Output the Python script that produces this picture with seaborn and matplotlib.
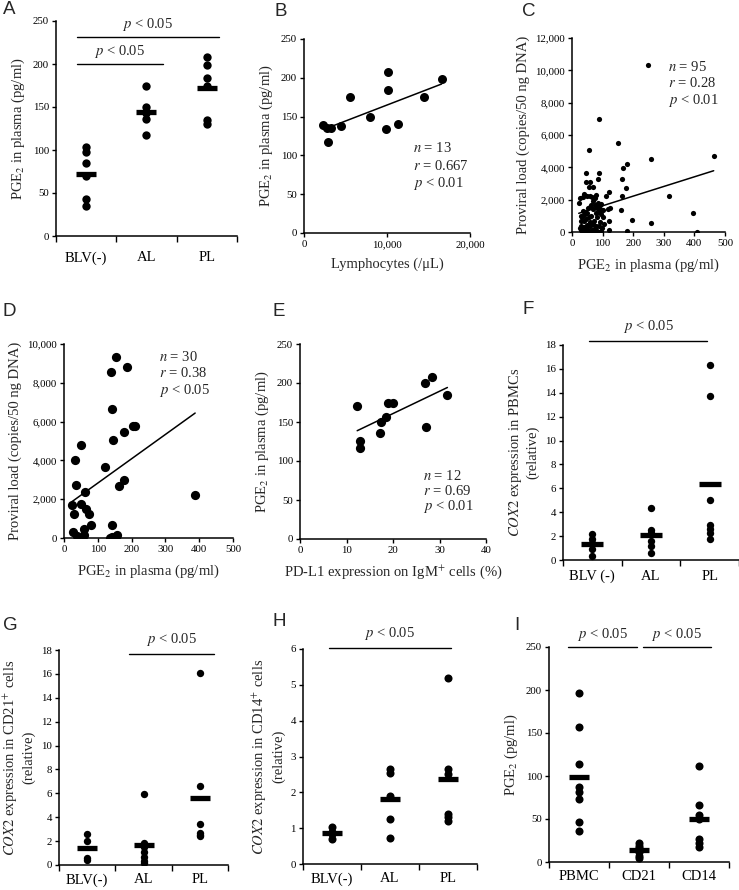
import numpy as np
import pandas as pd
import matplotlib
matplotlib.use('Agg')
import matplotlib.pyplot as plt
import seaborn as sns
from matplotlib.ticker import StrMethodFormatter, FixedLocator

# ---------------- data ----------------
# A: PGE2 in plasma by group
a_groups = ['BLV(-)', 'AL', 'PL']
a_blv = [104, 98, 85, 70, 43, 35]
a_al = [175, 150, 143, 136, 118]
a_pl = [208, 199, 184, 175, 135, 130]

# B: lymphocytes vs PGE2
b_lymph = [2330, 2740, 2900, 3300, 4430, 5550, 8010, 9820, 10140, 10140, 11270, 14450, 16580]
b_pge2 = [139, 135, 117, 135, 138, 175, 149, 134, 207, 184, 140, 175, 199]

# C: PGE2 vs proviral load (n = 95)
c_pge2 = [248, 88, 150, 55, 258, 463, 180, 168, 45, 87, 162, 85, 46, 60, 70, 55, 175,
          120, 110, 165, 318, 160, 196, 258, 180, 397, 408, 120, 125, 118, 105, 100, 122, 92,
          25, 22, 35, 40, 48, 58, 65, 75, 80, 95, 85,
          28, 32, 40, 52, 60, 70, 78, 88, 95,
          30, 38, 45, 55, 62, 72, 82, 90,
          25, 30, 35, 40, 45, 50, 55, 60, 65, 70, 75, 80, 85, 90, 95,
          28, 33, 42, 48, 58, 68, 78, 88, 98,
          36, 44, 50, 62, 68, 74, 82, 92, 100]
c_pvl = [10300, 6970, 5500, 5050, 4500, 4720, 4230, 3980, 3650, 3680, 3300, 3250, 3100, 3120,
         2780, 2800, 2750, 2480, 2250, 2200, 2230, 1380, 720, 550, 80, 1180, 10, 650, 1500,
         1400, 500, 1350, 150, 1650,
         2100, 1800, 2150, 2350, 2250, 2200, 2150, 2100, 2300, 1750, 1800,
         1000, 900, 1050, 1500, 1550, 1400, 1200, 1250, 1100,
         700, 650, 800, 950, 1000, 700, 900, 600,
         250, 150, 50, 300, 100, 200, 50, 400, 150, 60, 250, 100, 30, 20, 60,
         400, 80, 20, 450, 600, 500, 350, 400, 250,
         1300, 1250, 1200, 1700, 1900, 1650, 1500, 1450, 900]

# D: PGE2 vs proviral load (n = 30)
d_pge2 = [141, 50, 32, 144, 178, 121, 35, 63, 178, 163, 24, 50, 31, 65, 75, 80, 27, 39,
          60, 60, 143, 141, 158, 139, 154, 187, 203, 211, 388, 136]
d_pvl = [6665, 4810, 4040, 5030, 5440, 3640, 2750, 2390, 3000, 2660, 1700, 1770, 1240, 1510,
         1250, 670, 290, 80, 480, 150, 670, 30, 170, 8570, 9310, 8800, 5780, 5780, 2230, 20]

# E: PD-L1 on IgM+ cells vs PGE2
e_pdl1 = [12.3, 12.9, 12.9, 17.2, 17.5, 18.5, 19.0, 20.0, 26.8, 27.1, 28.3, 31.7]
e_pge2 = [171, 126, 117, 136, 150, 157, 175, 175, 200, 143, 208, 184]

# F: COX2 in PBMCs
f_groups = ['BLV (-)', 'AL', 'PL']
f_blv = [2.2, 1.8, 1.4, 0.9, 0.3]
f_al = [4.35, 2.5, 2.3, 1.6, 1.2, 0.6]
f_pl = [16.35, 13.7, 5.0, 2.9, 2.6, 2.3, 1.8]

# G: COX2 in CD21+ cells
g_groups = ['BLV(-)', 'AL', 'PL']
g_blv = [2.6, 2.0, 0.55, 0.45]
g_al = [5.95, 1.85, 1.5, 1.1, 0.7, 0.3, 0.2]
g_pl = [16.1, 6.6, 3.4, 2.7, 2.5, 2.4]

# H: COX2 in CD14+ cells
h_groups = ['BLV(-)', 'AL', 'PL']
h_blv = [1.02, 0.9, 0.85, 0.7]
h_al = [2.65, 2.55, 1.9, 1.25, 0.72]
h_pl = [5.2, 2.65, 2.5, 1.4, 1.3, 1.2]

# I: PGE2 by cell type
i_groups = ['PBMC', 'CD21', 'CD14']
i_pbmc = [196, 157, 114, 87, 81, 73, 47, 36]
i_cd21 = [22, 19, 16, 12, 7, 5]
i_cd14 = [112, 66, 55, 50, 27, 22, 18]

# ---------------- style ----------------
sns.set_theme(style='ticks')
plt.rcParams['font.family'] = ['Liberation Serif', 'DejaVu Serif']
plt.rcParams['mathtext.fontset'] = 'stix'

W, H = 739, 890
fig = plt.figure(figsize=(W / 100, H / 100), dpi=100)
fig.patch.set_facecolor('white')

PGE_LABEL = 'PGE$_2$ in plasma (pg/ml)'
PVL_LABEL = 'Proviral load (copies/50 ng DNA)'


def px_axes(left, top, right, bottom):
    return fig.add_axes([left / W, 1 - bottom / H, (right - left) / W, (bottom - top) / H])


def style(ax):
    sns.despine(ax=ax)
    for s in ['left', 'bottom']:
        ax.spines[s].set_linewidth(1.1)
        ax.spines[s].set_color('black')
    ax.tick_params(labelsize=7.8, length=3, width=1, colors='black', direction='out', pad=2)
    ax.set_facecolor('white')


def letter(x, y, s):
    fig.text(x / W, 1 - y / H, s, fontsize=13.5, family=['Liberation Sans', 'DejaVu Sans'],
             ha='left', va='center')


def group_panel(ax, cats, vals, yticks, ylabel, dot=6, bar=15, pad=11):
    df = pd.DataFrame({'grp': np.repeat(cats, [len(v) for v in vals]),
                       'val': np.concatenate(vals)})
    sns.stripplot(data=df, x='grp', y='val', order=cats, jitter=False, color='black',
                  size=dot, linewidth=0, ax=ax, zorder=3)
    sns.pointplot(data=df, x='grp', y='val', order=cats, estimator='mean', errorbar=None,
                  linestyle='none', marker='_', markersize=bar, markeredgewidth=3.8,
                  color='black', ax=ax, zorder=4)
    style(ax)
    ax.set_xlim(-0.5, 2.5)
    ax.set_ylim(yticks[0], yticks[-1])
    ax.set_yticks(yticks)
    ax.set_xticks(range(3))
    ax.set_xticklabels(cats, fontsize=10.5)
    ax.xaxis.set_minor_locator(FixedLocator([-0.5, 0.5, 1.5, 2.5]))
    ax.tick_params(axis='x', which='major', length=0, pad=pad)
    ax.tick_params(axis='x', which='minor', length=4, width=1, color='black')
    ax.set_xlabel('')
    ax.set_ylabel(ylabel, fontsize=10.5)


def sig(ax, x0, x1, y, ytxt):
    ax.plot([x0, x1], [y, y], color='black', lw=1, clip_on=False)
    ax.text((x0 + x1) / 2, ytxt, '$p$ < 0.05', ha='center', va='bottom', fontsize=10.5,
            clip_on=False)


def scatter_panel(ax, x, y, s, xticks, yticks, xlabel, ylabel, stats, txt_xy, txt_dy):
    sns.regplot(x=np.array(x, float), y=np.array(y, float), ci=None, ax=ax,
                scatter_kws={'s': s, 'color': 'black', 'linewidths': 0, 'alpha': 1},
                line_kws={'color': 'black', 'lw': 1.1})
    style(ax)
    ax.set_xlim(xticks[0], xticks[-1])
    ax.set_ylim(yticks[0], yticks[-1])
    ax.set_xticks(xticks)
    ax.set_yticks(yticks)
    ax.set_xlabel(xlabel, fontsize=10.5, labelpad=6)
    ax.set_ylabel(ylabel, fontsize=10.5)
    tx, ty = txt_xy
    for k, line in enumerate(stats):
        ax.text(tx, ty - k * txt_dy, line, fontsize=10.5, ha='left', va='center')


comma = StrMethodFormatter('{x:,.0f}')

# ---- A ----
axA = px_axes(56, 21, 237, 236)
group_panel(axA, a_groups, [a_blv, a_al, a_pl], [0, 50, 100, 150, 200, 250], PGE_LABEL)
sig(axA, -0.15, 2.2, 231, 236)
sig(axA, -0.15, 1.27, 200, 205)
letter(3, 10, 'A')

# ---- B ----
axB = px_axes(304, 39, 470, 233)
scatter_panel(axB, b_lymph, b_pge2, 42, [0, 10000, 20000], [0, 50, 100, 150, 200, 250],
              'Lymphocytes (/μL)', PGE_LABEL,
              ['$n$ = 13', '$r$ = 0.667', '$p$ < 0.01'], (13100, 109), 22.5)
axB.xaxis.set_major_formatter(comma)
letter(274, 12, 'B')

# ---- C ----
axC = px_axes(572, 38, 725, 232)
scatter_panel(axC, c_pge2, c_pvl, 14, [0, 100, 200, 300, 400, 500],
              list(range(0, 12001, 2000)), PGE_LABEL, PVL_LABEL,
              ['$n$ = 95', '$r$ = 0.28', '$p$ < 0.01'], (313, 10220), 1030)
axC.yaxis.set_major_formatter(comma)
letter(522, 12, 'C')

# ---- D ----
axD = px_axes(64, 344, 233, 538)
scatter_panel(axD, d_pge2, d_pvl, 44, [0, 100, 200, 300, 400, 500],
              list(range(0, 10001, 2000)), PGE_LABEL, PVL_LABEL,
              ['$n$ = 30', '$r$ = 0.38', '$p$ < 0.05'], (281, 9345), 860)
axD.yaxis.set_major_formatter(comma)
letter(3, 311, 'D')

# ---- E ----
axE = px_axes(300, 344, 486, 539)
scatter_panel(axE, e_pdl1, e_pge2, 44, [0, 10, 20, 30, 40], [0, 50, 100, 150, 200, 250],
              'PD-L1 expression on IgM$^{+}$ cells (%)', PGE_LABEL,
              ['$n$ = 12', '$r$ = 0.69', '$p$ < 0.01'], (26.4, 80.8), 19.8)
letter(272, 312, 'E')

# ---- F ----
axF = px_axes(563, 345, 739, 560)
group_panel(axF, f_groups, [f_blv, f_al, f_pl], list(range(0, 19, 2)),
            '$\\mathit{COX2}$ expression in PBMCs\n(relative)', dot=5.3, bar=16, pad=7)
sig(axF, -0.05, 1.95, 18.3, 18.8)
letter(522, 309, 'F')

# ---- G ----
axG = px_axes(59, 650, 228, 865)
group_panel(axG, g_groups, [g_blv, g_al, g_pl], list(range(0, 19, 2)),
            '$\\mathit{COX2}$ expression in CD21$^{+}$ cells\n(relative)', dot=5.3, bar=15,
            pad=6)
sig(axG, 0.75, 2.25, 17.7, 18.2)
letter(3, 625, 'G')

# ---- H ----
axH = px_axes(303, 649, 477, 864)
group_panel(axH, h_groups, [h_blv, h_al, h_pl], list(range(0, 7)),
            '$\\mathit{COX2}$ expression in CD14$^{+}$ cells\n(relative)', dot=5.8, bar=15,
            pad=6)
sig(axH, -0.05, 2.05, 6.03, 6.2)
letter(272, 621, 'H')

# ---- I ----
axI = px_axes(549, 647, 729, 862)
group_panel(axI, i_groups, [i_pbmc, i_cd21, i_cd14], [0, 50, 100, 150, 200, 250],
            'PGE$_2$ (pg/ml)', dot=5.8, bar=15, pad=6)
sig(axI, -0.19, 0.96, 250, 255)
sig(axI, 1.06, 2.2, 250, 255)
letter(514, 626, 'I')

fig.savefig('out.png', dpi=100, facecolor='white')
